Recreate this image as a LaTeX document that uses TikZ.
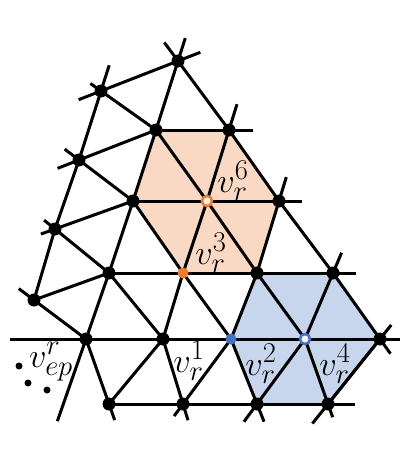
\documentclass[tikz,border=0pt]{standalone}
\usepackage{xcolor}
\definecolor{hexorange}{RGB}{249,217,196}
\definecolor{hexblue}{RGB}{199,213,237}
\definecolor{ptorange}{RGB}{237,125,49}
\definecolor{ptblue}{RGB}{68,114,196}

\begin{document}
\begin{tikzpicture}[
    x=1pt, y=-1pt,
    edge/.style={line width=3pt, line join=round},
    ext/.style={shorten >=-#1}, ext/.default=17pt,
    extb/.style={shorten <=-#1}, extb/.default=17pt,
    vertex/.style={circle, fill=black, inner sep=0pt, minimum size=13pt},
    fullpt/.style={circle, fill=#1, inner sep=0pt, minimum size=11pt},
    openpt/.style={circle, draw=#1, line width=2.6pt, fill=white, inner sep=0pt, minimum size=10pt},
    smalldot/.style={circle, fill=black, inner sep=0pt, minimum size=7pt},
    lbl/.style={inner sep=0pt, font=\Huge, scale=1.38, transform shape}
]
\useasboundingbox (0,0) rectangle (409,452);

% mesh vertices
\coordinate (A0) at (178,61);
\coordinate (B0) at (156,130);
\coordinate (B1) at (229,130);
\coordinate (C0) at (133,201);
\coordinate (C1) at (207,201);
\coordinate (C2) at (279,201);
\coordinate (D0) at (109,273);
\coordinate (D1) at (183,273);
\coordinate (D2) at (257,273);
\coordinate (D3) at (333,273);
\coordinate (E0) at (86,339);
\coordinate (E1) at (163,339);
\coordinate (E2) at (231,339);
\coordinate (E3) at (305,339);
\coordinate (E4) at (380,339);
\coordinate (F0) at (109,404);
\coordinate (F1) at (183,404);
\coordinate (F2) at (257,404);
\coordinate (F3) at (328,404);
% left column
\coordinate (L1) at (101,91);
\coordinate (L2) at (79,160);
\coordinate (L3) at (55,229);
\coordinate (L4) at (34,300);

% shaded cells
\fill[hexorange] (B0) -- (B1) -- (C2) -- (D2) -- (D1) -- (C0) -- cycle;
\fill[hexblue] (D2) -- (D3) -- (E4) -- (F3) -- (F2) -- (E2) -- cycle;

% horizontal lines
\draw[edge, ext=24pt] (B0) -- (B1);
\draw[edge, ext=23pt] (C0) -- (C1) -- (C2);
\draw[edge, ext=23pt] (D0) -- (D1) -- (D2) -- (D3);
\draw[edge, extb=76pt, ext=20pt] (E0) -- (E1) -- (E2) -- (E3) -- (E4);
\draw[edge, ext=27pt] (F0) -- (F1) -- (F2) -- (F3);

% steep lines
\draw[edge, extb=87pt, ext=24pt] (E0) -- (D0) -- (C0) -- (B0) -- (A0);
\draw[edge, ext=27pt] (E1) -- (D1) -- (C1) -- (B1);
\draw[edge, ext=25pt] (E2) -- (D2) -- (C2);
\draw[edge, ext=22pt] (E3) -- (D3);
\draw[edge, ext=18pt] (F3) -- (E4);
\draw[edge, ext=27pt] (L4) -- (L3) -- (L2) -- (L1);

% falling lines
\draw[edge, extb=23pt, ext=18pt] (A0) -- (B1) -- (C2) -- (D3) -- (E4);
\draw[edge, extb=13pt] (L1) -- (B0) -- (C1) -- (D2) -- (E3);
\draw[edge, extb=18pt] (L2) -- (C0) -- (D1) -- (E2);
\draw[edge, extb=14pt] (L3) -- (D0) -- (E1);
\draw[edge, extb=19pt] (L4) -- (E0);

% left fan
\draw[edge, extb=24pt, ext=24pt] (L1) -- (A0);
\draw[edge, extb=23pt] (L2) -- (B0);
\draw[edge, extb=15pt] (L3) -- (C0);
\draw[edge] (L4) -- (D0);

% bottom row
\draw[edge, ext] (E0) -- (F0);
\draw[edge] (E1) -- (F0);
\draw[edge, ext] (E1) -- (F1);
\draw[edge, ext=15pt] (E2) -- (F1);
\draw[edge, ext=19pt] (E2) -- (F2);
\draw[edge, ext=22pt] (E3) -- (F2);
\draw[edge, ext=14pt] (E3) -- (F3);
\draw[edge, ext=25pt] (E4) -- (F3);

% vertices
\foreach \v in {A0,B0,B1,C0,C2,D0,D2,D3,E0,E1,E4,F0,F1,F2,F3,L1,L2,L3,L4}
    \node[vertex] (p-\v) at (\v) {};
\node[openpt=ptorange] (p-C1) at (C1) {};
\node[fullpt=ptorange] (p-D1) at (D1) {};
\node[fullpt=ptblue] (p-E2) at (E2) {};
\node[openpt=ptblue] (p-E3) at (E3) {};

% labels
\node[lbl] (lab6) at (233,181) {$v_r^6$};
\node[lbl] (lab3) at (211,253) {$v_r^3$};
\node[lbl] (lab1) at (189,361) {$v_r^1$};
\node[lbl] (lab2) at (261,364) {$v_r^2$};
\node[lbl] (lab4) at (335,364) {$v_r^4$};
\node[lbl] (labep) at (51,362) {$v^r_{ep}$};
\node[smalldot] (dot1) at (19,366) {};
\node[smalldot] (dot2) at (28,383) {};
\node[smalldot] (dot3) at (47,390) {};

\end{tikzpicture}
\end{document}
